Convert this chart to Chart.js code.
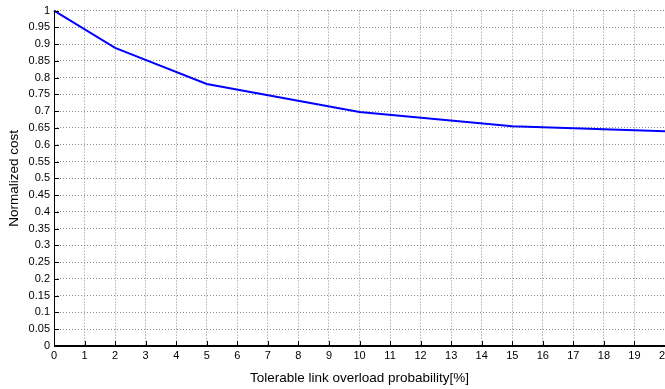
<!DOCTYPE html>
<html>
<head>
<meta charset="utf-8">
<script src="https://cdn.jsdelivr.net/npm/chart.js@4"></script>
<style>
  html, body { margin: 0; padding: 0; background: #fff; overflow: hidden; }
  #wrap { width: 665px; height: 389px; overflow: hidden; }
</style>
</head>
<body>
<div id="wrap"><canvas id="c" width="700" height="389"></canvas></div>
<script>
// tolerable overload probability [%] vs normalized cost
const overloadPct = [0, 2, 5, 10, 15, 20];
const normCost = [1.0, 0.889, 0.781, 0.698, 0.655, 0.640];

const xTitle = 'Tolerable link overload probability[%]';
const yTitle = 'Normalized cost';

const FONT = '"Liberation Sans", Arial, Helvetica, sans-serif';

// MATLAB-style axes: solid left/bottom lines and inward tick marks
const matlabAxes = {
  id: 'matlabAxes',
  afterDatasetsDraw(chart) {
    const { ctx, chartArea: a, scales: { x, y } } = chart;
    ctx.save();
    ctx.strokeStyle = '#000';
    ctx.lineWidth = 1;
    ctx.beginPath();
    x.ticks.forEach(t => {
      const px = Math.round(x.getPixelForValue(t.value)) + 0.5;
      ctx.moveTo(px, a.bottom);
      ctx.lineTo(px, a.bottom - 5);
    });
    y.ticks.forEach(t => {
      const py = Math.round(y.getPixelForValue(t.value)) + 0.5;
      ctx.moveTo(a.left, py);
      ctx.lineTo(a.left + 5, py);
    });
    ctx.stroke();
    // left axis
    ctx.beginPath();
    ctx.moveTo(Math.round(a.left) + 0.5, a.top);
    ctx.lineTo(Math.round(a.left) + 0.5, a.bottom);
    ctx.stroke();
    // bottom axis
    ctx.lineWidth = 2;
    ctx.beginPath();
    ctx.moveTo(a.left, Math.round(a.bottom));
    ctx.lineTo(a.right, Math.round(a.bottom));
    ctx.stroke();
    ctx.restore();
  }
};

new Chart(document.getElementById('c'), {
  type: 'line',
  data: {
    datasets: [{
      data: overloadPct.map((x, i) => ({ x, y: normCost[i] })),
      borderColor: '#0000ff',
      borderWidth: 2,
      pointRadius: 0,
      tension: 0,
      clip: false,
    }],
  },
  options: {
    responsive: false,
    animation: false,
    layout: { padding: { top: 10, right: 35, left: 0, bottom: 0 } },
    plugins: { legend: { display: false }, tooltip: { enabled: false } },
    scales: {
      x: {
        type: 'linear', min: 0, max: 20,
        afterFit: s => { s.height = 43; },
        ticks: { stepSize: 1, padding: 3, color: '#000', font: { family: FONT, size: 11 } },
        grid: { color: '#8c8c8c', drawTicks: false, lineWidth: 1 },
        border: { display: false, dash: [1, 2] },
        title: { display: true, text: xTitle, color: '#000', font: { family: FONT, size: 13.5 }, padding: { top: 0, bottom: 3 } },
      },
      y: {
        min: 0, max: 1,
        afterFit: s => { s.width = 54; },
        ticks: {
          stepSize: 0.05, padding: 4, color: '#000', font: { family: FONT, size: 11 },
          callback: v => String(+v.toFixed(2)),
        },
        grid: { color: '#8c8c8c', drawTicks: false, lineWidth: 1 },
        border: { display: false, dash: [1, 2] },
        title: { display: true, text: yTitle, color: '#000', font: { family: FONT, size: 13.5 }, padding: { top: 6, bottom: 0 } },
      },
    },
  },
  plugins: [matlabAxes],
});
</script>
</body>
</html>
